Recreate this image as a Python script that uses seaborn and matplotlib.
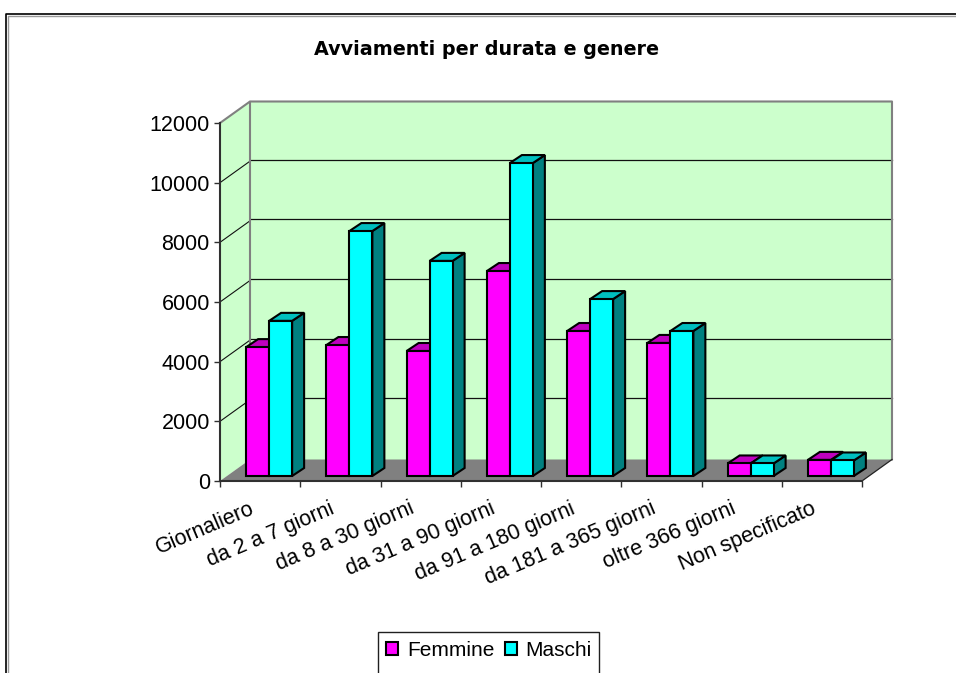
import matplotlib
matplotlib.use("Agg")
import matplotlib.pyplot as plt
import pandas as pd
import seaborn as sns
from matplotlib.lines import Line2D
from matplotlib.patches import Polygon, Rectangle
from matplotlib.transforms import Affine2D, IdentityTransform

categories = ["Giornaliero", "da 2 a 7 giorni", "da 8 a 30 giorni", "da 31 a 90 giorni",
              "da 91 a 180 giorni", "da 181 a 365 giorni", "oltre 366 giorni", "Non specificato"]
femmine = [4320, 4390, 4190, 6870, 4860, 4460, 420, 540]
maschi = [5200, 8210, 7210, 10490, 5930, 4860, 420, 520]
series_names = ["Femmine", "Maschi"]
yticks = [0, 2000, 4000, 6000, 8000, 10000, 12000]
title = "Avviamenti per durata e genere"

W, H = 956, 673
FRONT = {"Femmine": "#FF00FF", "Maschi": "#00FFFF"}
TOP = {"Femmine": "#BF00BF", "Maschi": "#00BFBF"}
SIDE = {"Femmine": "#800080", "Maschi": "#008080"}

sns.set_theme(style="white")
plt.rcParams["font.family"] = ["Liberation Sans", "DejaVu Sans"]

fig = plt.figure(figsize=(W / 100, H / 100), dpi=100, facecolor="white")
L, R, T, B = 220, 862, 123, 481
ax = fig.add_axes([L / W, (H - B) / H, (R - L) / W, (B - T) / H])

df = pd.DataFrame({
    "durata": categories * 2,
    "valore": femmine + maschi,
    "genere": [series_names[0]] * len(categories) + [series_names[1]] * len(categories),
})
sns.barplot(data=df, x="durata", y="valore", hue="genere", order=categories, hue_order=series_names,
            palette=FRONT, width=0.573, gap=0, edgecolor="black", linewidth=1.5, saturation=1,
            errorbar=None, ax=ax)
ax.set_xlim(-0.5, len(categories) - 0.5)
ax.set_ylim(0, 12000)
ax.set_xlabel("")
ax.set_ylabel("")
ax.patch.set_visible(False)

# frame of the pseudo-3D box, in pixels
DX, DY = 30, 21.5
GRID_DY = 23
ident = IdentityTransform()
def py(y):
    return H - y
def add_poly(points, **kw):
    ax.add_patch(Polygon(points, closed=True, transform=ident, clip_on=False, **kw))

wall = "#CCFFCC"
add_poly([(L + DX, py(T - DY)), (R + DX, py(T - DY)), (R + DX, py(B - DY)), (L + DX, py(B - DY))],
         facecolor=wall, edgecolor="none", zorder=0.2)
add_poly([(L, py(B)), (L + DX, py(B - DY)), (L + DX, py(T - DY)), (L, py(T))],
         facecolor=wall, edgecolor="none", zorder=0.2)
add_poly([(L, py(B)), (L + DX, py(B - DY)), (R + DX, py(B - DY)), (R, py(B))],
         facecolor="#808080", edgecolor="none", zorder=0.3)

def add_line(xs, ys, color, lw, z):
    ax.add_line(Line2D(xs, [py(v) for v in ys], transform=ident, color=color, lw=lw, clip_on=False,
                       zorder=z, solid_capstyle="projecting"))

for t in yticks[1:-1]:
    y0 = ax.transData.transform((0, t))[1]
    yp = H - y0
    add_line([L, L + DX], [yp, yp - DY], "#111111", 0.8, 0.5)
    add_line([L + DX, R + DX], [yp - GRID_DY, yp - GRID_DY], "#111111", 0.9, 0.5)
add_line([L, L + DX, R + DX, R + DX], [T, T - DY, T - DY, B - DY], "#808080", 1.5, 0.6)
add_line([L + DX, L + DX], [T - DY, B - DY], "#808080", 1.5, 0.6)
add_line([R, R + DX], [B, B - DY], "#222222", 0.9, 0.7)

# bars sit inside the floor: shift them and add depth faces
BX, BY = 9, 5
DEPTH_X, DEPTH_Y = 12, 8
for j, (container, name) in enumerate(zip(ax.containers, series_names)):
    for i, p in enumerate(container):
        x0, x1 = p.get_x(), p.get_x() + p.get_width()
        h = p.get_height()
        (ax0, ay0), (ax1, ay1) = ax.transData.transform([(x0, 0), (x1, h)])
        ax0 += BX; ax1 += BX; ay0 += BY; ay1 += BY
        z = 3 + i + j * 0.3
        add_poly([(ax1, ay0), (ax1 + DEPTH_X, ay0 + DEPTH_Y), (ax1 + DEPTH_X, ay1 + DEPTH_Y), (ax1, ay1)],
                 facecolor=SIDE[name], edgecolor="black", lw=1.5, zorder=z, joinstyle="miter")
        add_poly([(ax0, ay1), (ax0 + DEPTH_X, ay1 + DEPTH_Y), (ax1 + DEPTH_X, ay1 + DEPTH_Y), (ax1, ay1)],
                 facecolor=TOP[name], edgecolor="black", lw=1.5, zorder=z + 0.01, joinstyle="miter")
        p.set_transform(ax.transData + Affine2D().translate(BX, BY))
        p.set_clip_on(False)
        p.set_zorder(z + 0.02)

# axes
for s in ["top", "right"]:
    ax.spines[s].set_visible(False)
for s in ["left", "bottom"]:
    ax.spines[s].set_color("#303030")
    ax.spines[s].set_linewidth(1.5)
ax.set_yticks(yticks)
ax.set_yticklabels([str(v) for v in yticks], fontsize=15.5, color="black")
ax.tick_params(axis="y", which="major", left=True, length=4.3, width=1, color="#303030", pad=3)
ax.set_xticks(range(len(categories)))
ax.set_xticks([i - 0.5 for i in range(len(categories) + 1)], minor=True)
ax.tick_params(axis="x", which="major", bottom=False, length=0, pad=8)
ax.tick_params(axis="x", which="minor", bottom=True, length=4.3, width=1, color="#303030")
ax.set_xticklabels(categories, rotation=23, ha="right", rotation_mode="anchor", fontsize=15.5, color="black")
for lab in ax.get_xticklabels():
    lab.set_transform(lab.get_transform() + Affine2D().translate(-11, -6))

fig.text(486 / W, py(49.5) / H, title, ha="center", va="center", fontsize=13.8, fontweight="bold",
         family=["DejaVu Sans"], color="black")

# outer border (clipped by the picture on the right and at the bottom)
fig.add_artist(Line2D([7.5 / W, 7.5 / W, 1], [0, py(15.5) / H, py(15.5) / H], color="#9a9a9a", lw=1))
fig.add_artist(Line2D([6 / W, 6 / W, 1], [0, py(14) / H, py(14) / H], color="black", lw=1.2))

# legend: its box runs past the bottom of the picture, so the frame is drawn apart
fig.add_artist(Rectangle((378 / W, py(690) / H), (599 - 378) / W, (690 - 632) / H, transform=fig.transFigure,
                         facecolor="white", edgecolor="#202020", lw=1, zorder=5))
handles, labels = ax.get_legend_handles_labels()
leg = ax.legend(handles, labels, loc="upper left", bbox_to_anchor=(386 / W, py(641) / H),
                bbox_transform=fig.transFigure, ncols=2, fontsize=15, frameon=False, title=None, borderpad=0,
                borderaxespad=0, handlelength=0.58, handleheight=0.58, handletextpad=0.42, columnspacing=0.5,
                labelcolor="black")
leg.set_zorder(20)
leg.set_clip_on(False)
ax.set_zorder(6)

fig.savefig("out.png", dpi=100, facecolor="white")
